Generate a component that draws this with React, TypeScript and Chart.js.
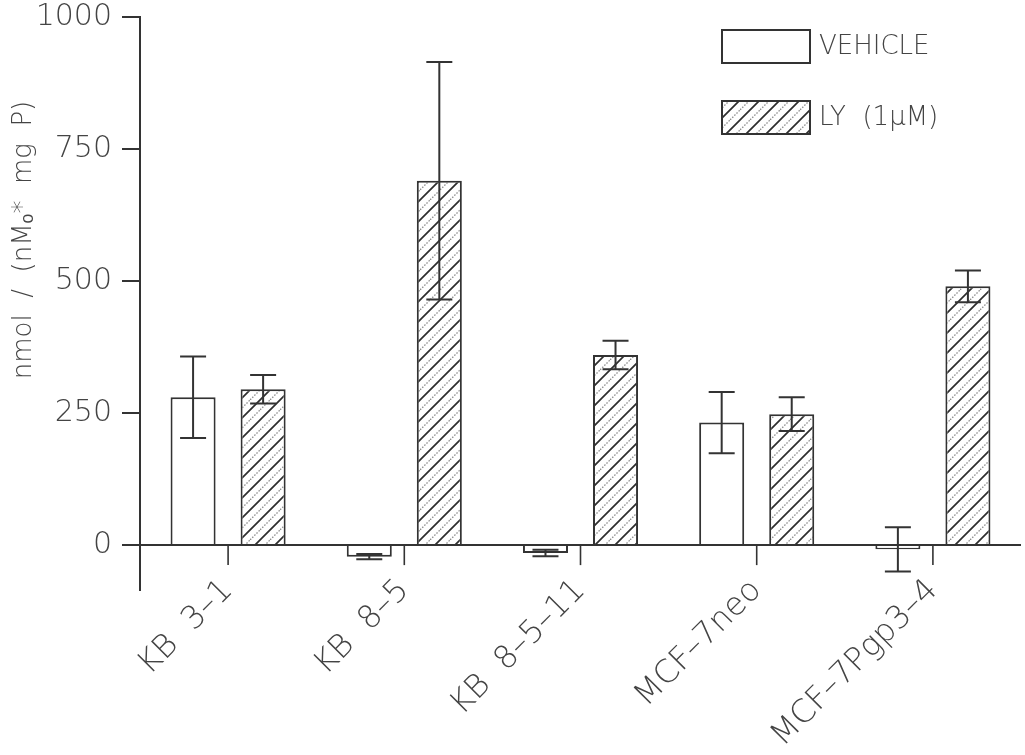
import React, { useEffect, useRef } from "react";
import { Chart, registerables } from "chart.js";

Chart.register(...registerables);

const categories = ["KB  3–1", "KB  8–5", "KB  8–5–11", "MCF–7neo", "MCF–7Pgp3–4"];
const vehicleValues = [280, -22, -15, 232, -8];
const vehicleErrors = [77, 5, 6, 58, 42];
const lyValues = [295, 690, 360, 248, 490];
const lyErrors = [27, 225, 27, 32, 30];
const yTicks = [0, 250, 500, 750, 1000];
const seriesNames = ["VEHICLE", "LY  (1μM)"];
const yTitle = "nmol  /  (nMₒ*  mg  P)";

const INK = "#333";
const TEXT = "#444";
const FONT = "'DejaVu Sans', 'Liberation Sans', sans-serif";

function makeHatch(): CanvasPattern | string {
  const s = 20;
  const c = document.createElement("canvas");
  c.width = s;
  c.height = s;
  const g = c.getContext("2d");
  if (!g) return "#fff";
  g.fillStyle = "#fff";
  g.fillRect(0, 0, s, s);
  g.strokeStyle = "#2e2e2e";
  g.lineWidth = 1.7;
  g.beginPath();
  g.moveTo(-2, s + 2);
  g.lineTo(s + 2, -2);
  g.moveTo(-2, 2);
  g.lineTo(2, -2);
  g.moveTo(s - 2, s + 2);
  g.lineTo(s + 2, s - 2);
  g.stroke();
  g.strokeStyle = "#8a8a8a";
  g.lineWidth = 1.3;
  g.setLineDash([1.5, 1.5]);
  g.beginPath();
  g.moveTo(-2, s / 2 + 2);
  g.lineTo(s / 2 + 2, -2);
  g.moveTo(s / 2 - 2, s + 2);
  g.lineTo(s + 2, s / 2 - 2);
  g.stroke();
  const p = g.createPattern(c, "repeat");
  return p || "#fff";
}

const errorBarPlugin = {
  id: "errorBars",
  afterDatasetsDraw(chart: any) {
    const ctx = chart.ctx;
    const y = chart.scales.y;
    const errs = [vehicleErrors, lyErrors];
    const vals = [vehicleValues, lyValues];
    ctx.save();
    ctx.strokeStyle = INK;
    ctx.lineWidth = 2;
    chart.data.datasets.forEach((_: any, di: number) => {
      const meta = chart.getDatasetMeta(di);
      meta.data.forEach((bar: any, i: number) => {
        const v = vals[di][i];
        const e = errs[di][i];
        const top = y.getPixelForValue(v + e);
        const bot = y.getPixelForValue(v - e);
        const x = bar.x;
        const cw = 13;
        ctx.beginPath();
        ctx.moveTo(x, top);
        ctx.lineTo(x, bot);
        ctx.moveTo(x - cw, top);
        ctx.lineTo(x + cw, top);
        ctx.moveTo(x - cw, bot);
        ctx.lineTo(x + cw, bot);
        ctx.stroke();
      });
    });
    ctx.restore();
  },
};

// lift the category label band so the rotated labels start just under the zero-line ticks
const labelLiftPlugin = {
  id: "labelLift",
  afterLayout(chart: any) {
    const xs = chart.scales.x;
    if (xs) xs.top = xs.top - 30;
  },
};

const decorPlugin = {
  id: "decor",
  afterDraw(chart: any) {
    const ctx = chart.ctx;
    const xs = chart.scales.x;
    const ys = chart.scales.y;
    const y0 = ys.getPixelForValue(0);
    ctx.save();
    ctx.strokeStyle = INK;
    ctx.lineWidth = 1.6;
    categories.forEach((_, i) => {
      const x = xs.getPixelForTick(i);
      ctx.beginPath();
      ctx.moveTo(x, y0);
      ctx.lineTo(x, y0 + 20);
      ctx.stroke();
    });
    ctx.fillStyle = TEXT;
    ctx.font = `200 26px ${FONT}`;
    ctx.textAlign = "center";
    ctx.textBaseline = "middle";
    ctx.translate(24, 240);
    ctx.rotate(-Math.PI / 2);
    ctx.fillText(yTitle, 0, 0);
    ctx.restore();

    ctx.save();
    const fills = [chart.data.datasets[0].backgroundColor, chart.data.datasets[1].backgroundColor];
    const boxes = [
      { x: 722, y: 30, w: 88, h: 33 },
      { x: 722, y: 101, w: 88, h: 33 },
    ];
    ctx.font = `200 26px ${FONT}`;
    ctx.textAlign = "left";
    ctx.textBaseline = "middle";
    boxes.forEach((b, i) => {
      ctx.fillStyle = fills[i];
      ctx.fillRect(b.x, b.y, b.w, b.h);
      ctx.strokeStyle = INK;
      ctx.lineWidth = 2;
      ctx.strokeRect(b.x, b.y, b.w, b.h);
      ctx.fillStyle = TEXT;
      ctx.fillText(seriesNames[i], b.x + b.w + 9, b.y + b.h / 2 + 1);
    });
    ctx.restore();
  },
};

export default function App() {
  const ref = useRef<HTMLCanvasElement | null>(null);

  useEffect(() => {
    const canvas = ref.current;
    if (!canvas) return;
    const hatch = makeHatch();
    const chart = new Chart(canvas, {
      type: "bar",
      data: {
        labels: categories,
        datasets: [
          {
            label: seriesNames[0],
            data: vehicleValues,
            backgroundColor: "#ffffff",
            borderColor: INK,
            borderWidth: 2,
            categoryPercentage: 0.795,
            barPercentage: 0.643,
          },
          {
            label: seriesNames[1],
            data: lyValues,
            backgroundColor: hatch as any,
            borderColor: INK,
            borderWidth: 2,
            categoryPercentage: 0.795,
            barPercentage: 0.643,
          },
        ],
      },
      options: {
        responsive: false,
        animation: false,
        devicePixelRatio: 1,
        layout: { padding: { top: 17, right: 4, left: 0, bottom: 0 } },
        plugins: {
          legend: { display: false },
          tooltip: { enabled: false },
          title: { display: false },
        },
        scales: {
          x: {
            type: "category",
            offset: true,
            grid: { display: false },
            border: { display: false },
            ticks: {
              autoSkip: false,
              minRotation: 45,
              maxRotation: 45,
              padding: 4,
              color: TEXT,
              font: { family: FONT, size: 32, weight: "200" as any },
            },
            afterFit(scale: any) {
              scale.height = 165;
              scale.paddingLeft = 0;
              scale.paddingRight = 0;
            },
          },
          y: {
            type: "linear",
            min: -85,
            max: 1000,
            afterBuildTicks(scale: any) {
              scale.ticks = yTicks.map((v) => ({ value: v }));
            },
            afterFit(scale: any) {
              scale.width = 140;
              scale.paddingTop = 0;
              scale.paddingBottom = 0;
            },
            grid: {
              drawOnChartArea: true,
              color: (c: any) => (c.tick && c.tick.value === 0 ? INK : "rgba(0,0,0,0)"),
              tickColor: INK,
              tickLength: 18,
              lineWidth: 2,
            },
            border: { display: true, color: INK, width: 2 },
            ticks: {
              padding: 10,
              color: TEXT,
              font: { family: FONT, size: 30, weight: "200" as any },
              callback: (v: any) => String(v),
            },
          },
        },
      },
      plugins: [labelLiftPlugin, errorBarPlugin, decorPlugin],
    });
    return () => chart.destroy();
  }, []);

  return (
    <div
      style={{
        position: "absolute",
        left: 0,
        top: 0,
        width: 1025,
        height: 755,
        background: "#fff",
      }}
    >
      <canvas ref={ref} width={1025} height={755} style={{ display: "block" }} />
    </div>
  );
}
